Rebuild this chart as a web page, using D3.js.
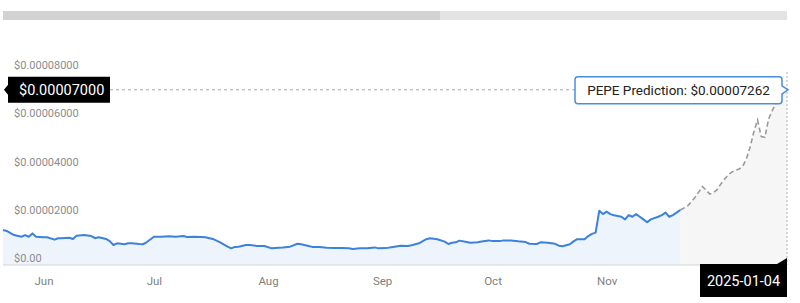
<!DOCTYPE html>
<html>
<head>
<meta charset="utf-8">
<script src="https://cdn.jsdelivr.net/npm/d3@7/dist/d3.min.js"></script>
<style>
  html, body { margin: 0; padding: 0; background: #fff; }
  svg { display: block; font-family: Roboto, Arial, sans-serif; }
</style>
</head>
<body>
<svg id="chart" width="800" height="303"></svg>
<script>
// price values are in units of 1e-5 USD
const histDates = [
  '2024-06-05', '2024-06-06', '2024-06-08', '2024-06-10', '2024-06-11', '2024-06-12', '2024-06-13',
  '2024-06-14', '2024-06-16', '2024-06-17', '2024-06-19', '2024-06-20', '2024-06-21', '2024-06-23',
  '2024-06-24', '2024-06-25', '2024-06-27', '2024-06-29', '2024-06-30', '2024-07-01', '2024-07-03',
  '2024-07-04', '2024-07-05', '2024-07-06', '2024-07-08', '2024-07-09', '2024-07-10', '2024-07-12',
  '2024-07-13', '2024-07-14', '2024-07-16', '2024-07-18', '2024-07-20', '2024-07-22', '2024-07-24',
  '2024-07-25', '2024-07-27', '2024-07-29', '2024-07-30', '2024-08-01', '2024-08-03', '2024-08-05',
  '2024-08-06', '2024-08-07', '2024-08-08', '2024-08-10', '2024-08-11', '2024-08-13', '2024-08-15',
  '2024-08-17', '2024-08-19', '2024-08-20', '2024-08-22', '2024-08-24', '2024-08-25', '2024-08-27',
  '2024-08-28', '2024-08-30', '2024-09-01', '2024-09-03', '2024-09-05', '2024-09-07', '2024-09-08',
  '2024-09-10', '2024-09-12', '2024-09-14', '2024-09-15', '2024-09-17', '2024-09-19', '2024-09-21',
  '2024-09-23', '2024-09-24', '2024-09-26', '2024-09-28', '2024-09-29', '2024-10-01', '2024-10-03',
  '2024-10-04', '2024-10-05', '2024-10-06', '2024-10-07', '2024-10-09', '2024-10-10', '2024-10-12',
  '2024-10-13', '2024-10-15', '2024-10-16', '2024-10-18', '2024-10-19', '2024-10-21', '2024-10-23',
  '2024-10-25', '2024-10-26', '2024-10-28', '2024-10-29', '2024-10-31', '2024-11-02', '2024-11-03',
  '2024-11-04', '2024-11-06', '2024-11-07', '2024-11-08', '2024-11-10', '2024-11-11', '2024-11-12',
  '2024-11-13', '2024-11-14', '2024-11-15', '2024-11-16', '2024-11-17', '2024-11-18', '2024-11-20',
  '2024-11-21', '2024-11-22', '2024-11-23', '2024-11-24', '2024-11-25', '2024-11-26', '2024-11-27',
  '2024-11-28', '2024-11-30', '2024-12-01', '2024-12-02', '2024-12-03', '2024-12-04', '2024-12-05',
  '2024-12-06',
];
const histPrices = [
  1.45, 1.41, 1.24, 1.17, 1.24, 1.17, 1.31,
  1.17, 1.15, 1.15, 1.05, 1.11, 1.11, 1.13,
  1.08, 1.21, 1.24, 1.20, 1.11, 1.15, 1.08,
  0.99, 0.83, 0.90, 0.86, 0.90, 0.90, 0.87,
  0.86, 0.94, 1.17, 1.17, 1.19, 1.17, 1.20,
  1.16, 1.17, 1.16, 1.15, 1.08, 0.94, 0.76,
  0.69, 0.75, 0.76, 0.83, 0.83, 0.79, 0.79,
  0.69, 0.72, 0.73, 0.76, 0.88, 0.86, 0.79,
  0.75, 0.75, 0.72, 0.70, 0.70, 0.69, 0.66,
  0.69, 0.69, 0.73, 0.69, 0.70, 0.75, 0.80,
  0.79, 0.82, 0.90, 1.07, 1.11, 1.07, 0.97,
  0.87, 0.92, 0.94, 1.01, 0.95, 0.92, 0.94,
  0.97, 1.02, 0.99, 0.99, 1.02, 1.02, 0.98,
  0.95, 0.88, 0.87, 0.94, 0.92, 0.88, 0.80,
  0.78, 0.86, 0.98, 1.07, 1.07, 1.20, 1.29,
  1.34, 2.25, 2.11, 2.21, 2.11, 2.06, 2.00,
  1.89, 2.07, 2.00, 2.11, 2.00, 1.89, 1.77,
  1.89, 2.00, 2.07, 2.17, 2.00, 2.07, 2.17,
  2.28,
];

const predDates = [
  '2024-12-06', '2024-12-07', '2024-12-08', '2024-12-09', '2024-12-10', '2024-12-11', '2024-12-12',
  '2024-12-13', '2024-12-14', '2024-12-15', '2024-12-16', '2024-12-17', '2024-12-18', '2024-12-19',
  '2024-12-20', '2024-12-21', '2024-12-22', '2024-12-23', '2024-12-24', '2024-12-25', '2024-12-26',
  '2024-12-27', '2024-12-28', '2024-12-29', '2024-12-30', '2024-12-31', '2025-01-01', '2025-01-02',
  '2025-01-03', '2025-01-04',
];
const predPrices = [
  2.28, 2.36, 2.45, 2.62, 2.80, 3.02, 3.25,
  3.11, 2.94, 3.00, 3.12, 3.35, 3.55, 3.73,
  3.85, 3.93, 3.98, 4.10, 4.42, 4.90, 5.52,
  6.01, 5.32, 5.29, 6.05, 6.40, 6.70, 6.95,
  7.12, 7.262,
];

const yTicks = [0, 2, 4, 6, 8];
const yTickLabels = ['$0.00', '$0.00002000', '$0.00004000', '$0.00006000', '$0.00008000'];
const monthTicks = ['2024-06-16', '2024-07-16', '2024-08-16', '2024-09-16', '2024-10-16', '2024-11-16'];

const crossLeftLabel = '$0.00007000';
const crossRightLabel = 'PEPE Prediction: $0.00007262';
const crossDateLabel = '2025-01-04';

const UNIT = 1e-5;
const parse = d3.utcParse('%Y-%m-%d');
const hist = histDates.map((d, i) => ({ date: parse(d), value: histPrices[i] * UNIT }));
const pred = predDates.map((d, i) => ({ date: parse(d), value: predPrices[i] * UNIT }));

const svg = d3.select('#chart');

const x = d3.scaleUtc()
  .domain([parse('2024-06-05'), parse('2025-01-04')])
  .range([3, 787]);
const y = d3.scaleLinear()
  .domain([0, 8 * UNIT])
  .range([265, 72]);

// navigator / scrollbar strip
svg.append('rect').attr('x', 3).attr('y', 11).attr('width', 784).attr('height', 9)
  .attr('fill', '#e3e3e5');
svg.append('rect').attr('x', 3).attr('y', 11).attr('width', 437).attr('height', 9)
  .attr('fill', '#d1d2d4');

const area = d3.area()
  .x((d) => x(d.date))
  .y0(y(0))
  .y1((d) => y(d.value));
const line = d3.line()
  .x((d) => x(d.date))
  .y((d) => y(d.value));

svg.append('path').datum(pred).attr('d', area).attr('fill', '#f6f6f6');
svg.append('path').datum(hist).attr('d', area).attr('fill', '#eef4fc');

// baseline
svg.append('line')
  .attr('x1', 3).attr('x2', 787)
  .attr('y1', y(0)).attr('y2', y(0))
  .attr('stroke', '#d4d4d4').attr('stroke-width', 1);

// y labels (sit just above their value)
svg.append('g')
  .selectAll('text')
  .data(yTicks)
  .join('text')
  .attr('x', 14)
  .attr('y', (d) => y(d * UNIT) - 3)
  .attr('fill', '#8c8c8c')
  .style('font-size', '11px')
  .text((d, i) => yTickLabels[i]);

// x axis month labels
const xAxis = svg.append('g')
  .attr('transform', `translate(0,${y(0)})`)
  .call(d3.axisBottom(x)
    .tickValues(monthTicks.map(parse))
    .tickFormat(d3.utcFormat('%b'))
    .tickSize(0)
    .tickPadding(12));
xAxis.select('.domain').remove();
xAxis.selectAll('text')
  .attr('fill', '#808080')
  .style('font-size', '11.5px')
  .style('font-family', 'Roboto, Arial, sans-serif');

// lines
svg.append('path').datum(pred).attr('d', line)
  .attr('fill', 'none')
  .attr('stroke', '#9a9a9a')
  .attr('stroke-width', 1.6)
  .attr('stroke-dasharray', '5,3');
svg.append('path').datum(hist).attr('d', line)
  .attr('fill', 'none')
  .attr('stroke', '#3c82dc')
  .attr('stroke-width', 2)
  .attr('stroke-linejoin', 'round');

// crosshair at the last prediction point
const last = pred[pred.length - 1];
const cx = x(last.date);
const cy = y(last.value);

svg.append('line')
  .attr('x1', 110).attr('x2', cx)
  .attr('y1', cy).attr('y2', cy)
  .attr('stroke', '#a8a8a8').attr('stroke-width', 1)
  .attr('stroke-dasharray', '3,3');
svg.append('line')
  .attr('x1', cx).attr('x2', cx)
  .attr('y1', y(8 * UNIT)).attr('y2', y(0))
  .attr('stroke', '#b0b0b0').attr('stroke-width', 1)
  .attr('stroke-dasharray', '2,2');

// left value flag
svg.append('path')
  .attr('d', `M4,${cy} L8,${cy - 5} L8,${cy - 13} L110,${cy - 13} L110,${cy + 13} L8,${cy + 13} L8,${cy + 5} Z`)
  .attr('fill', '#000');
svg.append('text')
  .attr('x', 19).attr('y', cy + 5)
  .attr('fill', '#fff')
  .style('font-size', '14.5px')
  .text(crossLeftLabel);

// right tooltip
const bx0 = 575;
const bx1 = cx - 5;
const by0 = cy - 13;
const by1 = cy + 14;
const r = 3;
svg.append('path')
  .attr('d', `M${bx0 + r},${by0} L${bx1 - r},${by0} Q${bx1},${by0} ${bx1},${by0 + r}
    L${bx1},${cy - 4} L${cx + 1},${cy} L${bx1},${cy + 4}
    L${bx1},${by1 - r} Q${bx1},${by1} ${bx1 - r},${by1}
    L${bx0 + r},${by1} Q${bx0},${by1} ${bx0},${by1 - r}
    L${bx0},${by0 + r} Q${bx0},${by0} ${bx0 + r},${by0} Z`)
  .attr('fill', '#fff')
  .attr('stroke', '#4a8ee0')
  .attr('stroke-width', 1.5);
svg.append('text')
  .attr('x', (bx0 + bx1) / 2).attr('y', cy + 5)
  .attr('text-anchor', 'middle')
  .attr('fill', '#222')
  .style('font-size', '13.5px')
  .text(crossRightLabel);

// date flag under the axis
const dy0 = y(0) - 1;
svg.append('path')
  .attr('d', `M700,${dy0} L777,${dy0} L${cx},${dy0 - 6} L${cx},${dy0 + 33} L700,${dy0 + 33} Z`)
  .attr('fill', '#000');
svg.append('text')
  .attr('x', 743.5).attr('y', dy0 + 22)
  .attr('text-anchor', 'middle')
  .attr('fill', '#fff')
  .style('font-size', '14.5px')
  .text(crossDateLabel);
</script>
</body>
</html>
